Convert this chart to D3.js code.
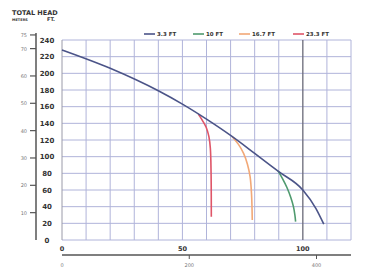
<!DOCTYPE html>
<html>
<head>
<meta charset="utf-8">
<script src="https://cdn.jsdelivr.net/npm/d3@7"></script>
<style>
body{margin:0;background:#fff;}
svg{display:block;font-family:"DejaVu Sans",sans-serif;}
</style>
</head>
<body>
<svg id="chart" width="370" height="280"></svg>
<script>
// flow in gpm, head in ft
var mainCurve = [[0,228],[20,206],[40,179],[50,163],[60,145],[70,125.5],[80,104],[90,82],[100,60],[105.4,38],[108.7,19]];
var curve10 = [[89.7,83],[91.5,74],[93.4,63],[95,51],[96.1,40],[96.7,30],[97,22]];
var curve167 = [[70.7,124],[73.2,115],[75.4,104],[77,91],[78.1,76],[78.7,55],[79,24]];
var curve233 = [[56.6,151],[58.4,143],[59.9,135],[61,124],[61.6,110],[61.9,80],[62,28]];

var legendNames = ["3.3 FT","10 FT","16.7 FT","23.3 FT"];
var legendColors = ["#4b5488","#4f9a6e","#f2a877","#df5568"];
var ftTicks = d3.range(0,241,20);
var meterTicks = [10,20,30,40,50,60,70,75];
var gpmTicks = [0,50,100];
var lpmTicks = [0,200,400];

var svg = d3.select("#chart");
var x = d3.scaleLinear().domain([0,120]).range([62,351]);
var y = d3.scaleLinear().domain([0,240]).range([240,40]);
var yM = d3.scaleLinear().domain([0,240/3.281]).range([240,40]);
var xL = d3.scaleLinear().domain([0,120*3.785]).range([62,351]);

// grid
var grid = svg.append("g");
grid.selectAll(".hg").data(ftTicks).enter().append("line")
  .attr("x1",x(0)).attr("x2",x(120))
  .attr("y1",d=>y(d)).attr("y2",d=>y(d))
  .attr("stroke","#b0b4da").attr("stroke-width",1);
grid.selectAll(".vg").data(d3.range(0,121,10)).enter().append("line")
  .attr("y1",y(0)).attr("y2",y(240))
  .attr("x1",d=>x(d)).attr("x2",d=>x(d))
  .attr("stroke",d=>d==100?"#6a6a78":(d==0?"#9a9aa8":"#b0b4da"))
  .attr("stroke-width",d=>d==100?1.3:1);

// curves
var line = d3.line().x(d=>x(d[0])).y(d=>y(d[1])).curve(d3.curveCatmullRom);
var lineMain = d3.line().x(d=>x(d[0])).y(d=>y(d[1])).curve(d3.curveMonotoneX);
[[curve233,legendColors[3]],[curve167,legendColors[2]],[curve10,legendColors[1]]].forEach(function(c){
  svg.append("path").datum(c[0]).attr("d",line)
    .attr("fill","none").attr("stroke",c[1]).attr("stroke-width",1.6);
});
svg.append("path").datum(mainCurve).attr("d",lineMain)
  .attr("fill","none").attr("stroke",legendColors[0]).attr("stroke-width",1.6);

// ft labels
svg.selectAll(".ft").data(ftTicks).enter().append("text")
  .attr("x",47).attr("y",d=>y(d)+2.5)
  .attr("text-anchor","middle").attr("font-size",7).attr("font-weight","bold")
  .attr("fill","#333").text(d=>d);

// meters axis
svg.append("line").attr("x1",36).attr("x2",36).attr("y1",yM(75)-2).attr("y2",y(0))
  .attr("stroke","#555").attr("stroke-width",1.5);
svg.selectAll(".mt").data(meterTicks).enter().append("line")
  .attr("x1",30).attr("x2",36).attr("y1",d=>yM(d)).attr("y2",d=>yM(d))
  .attr("stroke","#555").attr("stroke-width",1.2);
svg.selectAll(".ml").data(meterTicks).enter().append("text")
  .attr("x",27).attr("y",d=>yM(d)+2)
  .attr("text-anchor","end").attr("font-size",5).attr("fill","#777").text(d=>d);

// titles
svg.append("text").attr("x",12).attr("y",15).attr("font-size",6.5).attr("font-weight","bold")
  .attr("fill","#333").text("TOTAL  HEAD");
svg.append("text").attr("x",12).attr("y",21).attr("font-size",3.5).attr("font-weight","bold")
  .attr("fill","#333").text("METERS");
svg.append("text").attr("x",47).attr("y",21).attr("font-size",5).attr("font-weight","bold")
  .attr("fill","#333").text("FT.");

// gpm labels
svg.selectAll(".gx").data(gpmTicks).enter().append("text")
  .attr("x",d=>x(d)).attr("y",251)
  .attr("text-anchor","middle").attr("font-size",6.5).attr("font-weight","bold")
  .attr("fill","#333").text(d=>d);

// lpm axis
svg.append("line").attr("x1",xL(0)).attr("x2",351).attr("y1",255).attr("y2",255)
  .attr("stroke","#555").attr("stroke-width",1.5);
svg.selectAll(".lt").data(lpmTicks.slice(1)).enter().append("line")
  .attr("x1",d=>xL(d)).attr("x2",d=>xL(d)).attr("y1",255).attr("y2",259)
  .attr("stroke","#555").attr("stroke-width",1);
svg.selectAll(".ll").data(lpmTicks).enter().append("text")
  .attr("x",d=>xL(d)).attr("y",267)
  .attr("text-anchor","middle").attr("font-size",5).attr("fill","#777").text(d=>d);

// legend
var legX = [144,193,239,293];
var leg = svg.selectAll(".leg").data(legendNames).enter().append("g")
  .attr("transform",(d,i)=>"translate("+legX[i]+",34)");
leg.append("line").attr("x1",0).attr("x2",11).attr("y1",0).attr("y2",0)
  .attr("stroke",(d,i)=>legendColors[i]).attr("stroke-width",1.6);
leg.append("text").attr("x",13).attr("y",2).attr("font-size",5.5).attr("font-weight","bold")
  .attr("fill","#333").text(d=>d);
</script>
</body>
</html>
